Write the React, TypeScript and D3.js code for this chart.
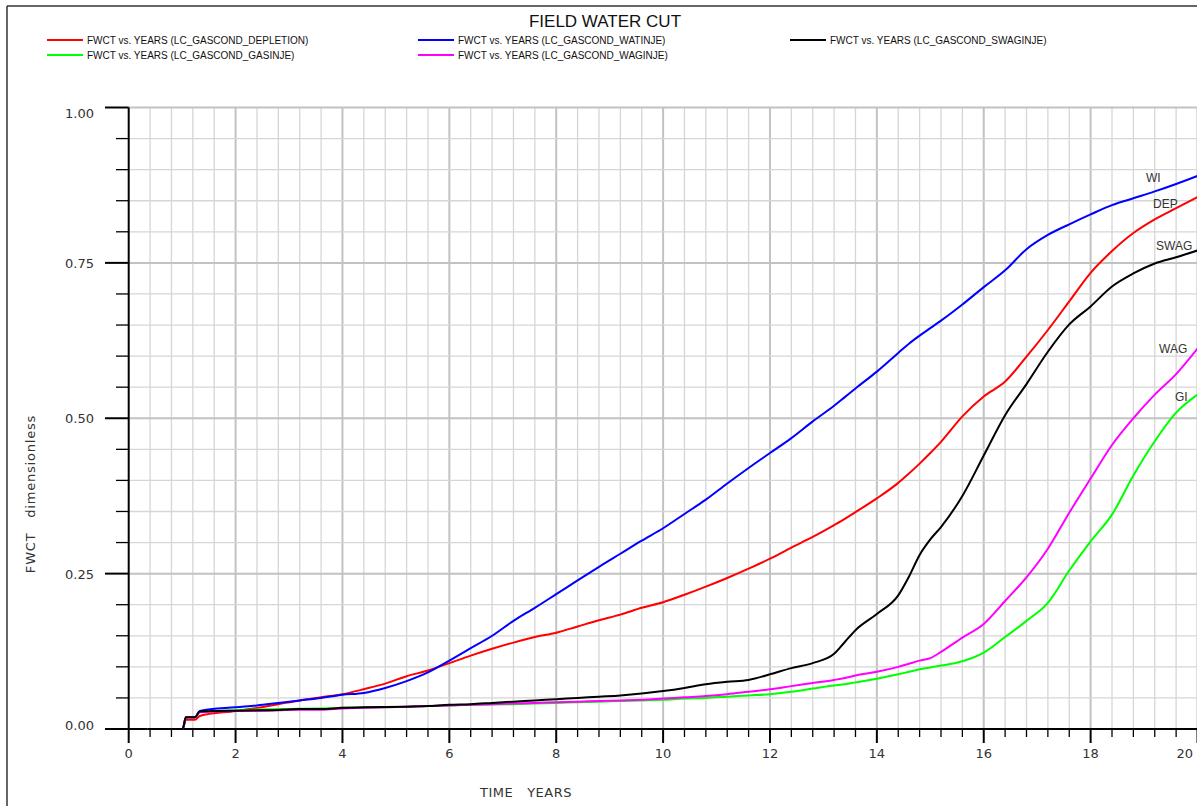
import React from "react";
import * as d3 from "d3";

// Sample times (years) shared by every FWCT series
const YEARS = [
  0.35, 1.01, 1.07, 1.24, 1.33, 2.0, 2.4, 2.8, 3.2, 3.6, 4.0, 4.4, 4.8, 5.2, 5.6, 6.0, 6.4, 6.8,
  7.2, 7.6, 8.0, 8.4, 8.8, 9.2, 9.6, 10.0, 10.4, 10.8, 11.2, 11.6, 12.0, 12.4, 12.8, 13.2, 13.4,
  13.6, 14.0, 14.4, 14.6, 14.8, 15.0, 15.2, 15.6, 16.0, 16.4, 16.8, 17.2, 17.6, 18.0, 18.4, 18.8,
  19.2, 19.6, 20.0,
];

const DEPLETION = [
  0, 0, 0.015, 0.015, 0.021, 0.029, 0.034, 0.04, 0.046, 0.051, 0.056, 0.064, 0.073, 0.085, 0.094,
  0.106, 0.118, 0.129, 0.139, 0.148, 0.155, 0.165, 0.175, 0.184, 0.195, 0.204, 0.216, 0.229, 0.243,
  0.258, 0.274, 0.292, 0.309, 0.328, 0.338, 0.349, 0.371, 0.396, 0.411, 0.427, 0.444, 0.462, 0.503,
  0.535, 0.559, 0.599, 0.642, 0.688, 0.734, 0.769, 0.798, 0.82, 0.838, 0.856,
];

const GASINJE = [
  0, 0, 0.019, 0.019, 0.028, 0.03, 0.0315, 0.032, 0.0325, 0.033, 0.034, 0.0345, 0.035, 0.036,
  0.037, 0.038, 0.039, 0.0395, 0.04, 0.041, 0.042, 0.043, 0.044, 0.045, 0.046, 0.047, 0.049, 0.05,
  0.052, 0.054, 0.056, 0.06, 0.065, 0.07, 0.072, 0.075, 0.081, 0.088, 0.092, 0.096, 0.099, 0.102,
  0.109, 0.123, 0.148, 0.174, 0.203, 0.255, 0.302, 0.345, 0.408, 0.463, 0.509, 0.538,
];

const WATINJE = [
  0, 0, 0.019, 0.019, 0.029, 0.035, 0.038, 0.042, 0.046, 0.05, 0.055, 0.058, 0.066, 0.077, 0.091,
  0.11, 0.13, 0.15, 0.174, 0.195, 0.217, 0.239, 0.261, 0.282, 0.303, 0.323, 0.346, 0.369, 0.395,
  0.42, 0.444, 0.468, 0.495, 0.52, 0.534, 0.548, 0.575, 0.605, 0.62, 0.633, 0.645, 0.657, 0.683,
  0.711, 0.738, 0.772, 0.795, 0.812, 0.828, 0.843, 0.854, 0.865, 0.877, 0.89,
];

const WAGINJE = [
  0, 0, 0.019, 0.019, 0.027, 0.029, 0.029, 0.03, 0.031, 0.031, 0.033, 0.034, 0.035, 0.036, 0.037,
  0.038, 0.039, 0.04, 0.041, 0.042, 0.043, 0.044, 0.045, 0.046, 0.047, 0.049, 0.051, 0.053, 0.056,
  0.06, 0.064, 0.069, 0.074, 0.079, 0.082, 0.086, 0.092, 0.1, 0.105, 0.11, 0.114, 0.124, 0.147,
  0.169, 0.206, 0.244, 0.29, 0.348, 0.403, 0.457, 0.5, 0.538, 0.571, 0.612,
];

const SWAGINJE = [
  0, 0, 0.019, 0.019, 0.028, 0.0295, 0.03, 0.0305, 0.032, 0.032, 0.034, 0.035, 0.0355, 0.036,
  0.037, 0.039, 0.04, 0.042, 0.044, 0.046, 0.048, 0.05, 0.052, 0.054, 0.057, 0.061, 0.066, 0.072,
  0.076, 0.079, 0.088, 0.098, 0.106, 0.121, 0.14, 0.159, 0.185, 0.215, 0.245, 0.28, 0.305, 0.325,
  0.375, 0.44, 0.505, 0.555, 0.607, 0.651, 0.68, 0.712, 0.733, 0.749, 0.759, 0.77,
];

const SERIES_NAMES = [
  "FWCT vs. YEARS (LC_GASCOND_DEPLETION)",
  "FWCT vs. YEARS (LC_GASCOND_GASINJE)",
  "FWCT vs. YEARS (LC_GASCOND_WATINJE)",
  "FWCT vs. YEARS (LC_GASCOND_WAGINJE)",
  "FWCT vs. YEARS (LC_GASCOND_SWAGINJE)",
];
const SERIES_VALUES = [DEPLETION, GASINJE, WATINJE, WAGINJE, SWAGINJE];
const SERIES_COLORS = ["#ff0000", "#00ff00", "#0000ff", "#ff00ff", "#000000"];
const END_LABELS = ["DEP", "GI", "WI", "WAG", "SWAG"];

const X_TICKS = [0, 2, 4, 6, 8, 10, 12, 14, 16, 18, 20];
const Y_TICKS = [0, 0.25, 0.5, 0.75, 1.0];

const W = 1197;
const H = 806;

export default function App() {
  const x = d3.scaleLinear().domain([0, 20]).range([128.7, 1197.5]);
  const y = d3.scaleLinear().domain([0, 1]).range([729, 107.5]);

  const xMinor = d3.range(0, 20.0001, 0.4);
  const yMinor = d3.range(0, 1.0001, 0.05);
  const isMajorX = (v: number) => Math.abs(v / 2 - Math.round(v / 2)) < 1e-6;
  const isMajorY = (v: number) => Math.abs(v / 0.25 - Math.round(v / 0.25)) < 1e-6;

  const line = d3
    .line<number>()
    .x((_, i) => x(YEARS[i]))
    .y((d) => y(d))
    .curve(d3.curveMonotoneX);

  const tickFont = "'DejaVu Sans', sans-serif";
  const legendFont = "'Liberation Sans', Arial, sans-serif";

  // legend layout: column-major, 2 rows
  const legendCols = [47, 418, 790];
  const legendRows = [40, 55];

  // label positions at the right end of each curve
  const labelPos: Record<string, [number, number]> = {
    WI: [1146, 177],
    DEP: [1153, 203],
    SWAG: [1156, 245],
    WAG: [1159, 348],
    GI: [1175, 396],
  };

  return (
    <svg
      width={W}
      height={H}
      viewBox={`0 0 ${W} ${H}`}
      style={{ position: "absolute", left: 0, top: 0, display: "block", background: "#fff" }}
    >
      <rect x={0} y={0} width={W} height={H} fill="#ffffff" />
      {/* outer frame */}
      <line x1={7} y1={6} x2={W} y2={6} stroke="#333" strokeWidth={1.5} />
      <line x1={7} y1={6} x2={7} y2={H} stroke="#333" strokeWidth={1.5} />

      {/* title */}
      <text x={605} y={27} textAnchor="middle" fontFamily={legendFont} fontSize={17} fill="#111">
        FIELD WATER CUT
      </text>

      {/* legend */}
      {SERIES_NAMES.map((name, i) => {
        const col = Math.floor(i / 2);
        const row = i % 2;
        const lx = legendCols[col];
        const ly = legendRows[row];
        return (
          <g key={name}>
            <line x1={lx} x2={lx + 36} y1={ly} y2={ly} stroke={SERIES_COLORS[i]} strokeWidth={2} />
            <text x={lx + 40} y={ly + 3.5} fontFamily={legendFont} fontSize={10} fill="#111">
              {name}
            </text>
          </g>
        );
      })}

      {/* grid */}
      <g>
        {xMinor
          .filter((v) => v > 0)
          .map((v) => (
            <line
              key={"gx" + v}
              x1={x(v)}
              x2={x(v)}
              y1={y(1)}
              y2={y(0)}
              stroke={isMajorX(v) ? "#c2c2c2" : "#d6d6d6"}
              strokeWidth={isMajorX(v) ? 2 : 1.3}
            />
          ))}
        {yMinor
          .filter((v) => v > 0)
          .map((v) => (
            <line
              key={"gy" + v}
              x1={x(0)}
              x2={W}
              y1={y(v)}
              y2={y(v)}
              stroke={isMajorY(v) ? "#c2c2c2" : "#d6d6d6"}
              strokeWidth={isMajorY(v) ? 2 : 1.3}
            />
          ))}
      </g>

      {/* axes */}
      <g stroke="#000">
        <line x1={x(0)} x2={x(0)} y1={y(1)} y2={y(0) + 14} strokeWidth={2} />
        <line x1={105} x2={W} y1={y(0)} y2={y(0)} strokeWidth={2} />
        {yMinor.map((v) => (
          <line
            key={"ty" + v}
            x1={isMajorY(v) ? 105 : 116}
            x2={x(0)}
            y1={y(v)}
            y2={y(v)}
            strokeWidth={isMajorY(v) ? 2 : 1.3}
          />
        ))}
        {xMinor
          .filter((v) => v > 0)
          .map((v) => (
            <line
              key={"tx" + v}
              x1={x(v)}
              x2={x(v)}
              y1={y(0)}
              y2={y(0) + (isMajorX(v) ? 14 : 8)}
              strokeWidth={isMajorX(v) ? 2 : 1.3}
            />
          ))}
      </g>

      {/* tick labels */}
      {Y_TICKS.map((v) => {
        let yy = y(v) + 5;
        if (v === 1) yy = y(v) + 10;
        if (v === 0) yy = y(v) + 1;
        return (
          <text
            key={"ly" + v}
            x={94}
            y={yy}
            textAnchor="end"
            fontFamily={tickFont}
            fontSize={13}
            fill="#333"
          >
            {v.toFixed(2)}
          </text>
        );
      })}
      {X_TICKS.map((v) => {
        const px = x(v);
        const atEdge = px + 9 > W;
        return (
          <text
            key={"lx" + v}
            x={atEdge ? W - 4 : px}
            y={758}
            textAnchor={atEdge ? "end" : "middle"}
            fontFamily={tickFont}
            fontSize={13}
            fill="#333"
          >
            {v}
          </text>
        );
      })}

      {/* axis titles */}
      <text
        transform="translate(35,494) rotate(-90)"
        textAnchor="middle"
        fontFamily={tickFont}
        fontSize={13}
        letterSpacing={0.8}
        fill="#333"
        style={{ whiteSpace: "pre" }}
      >
        {"FWCT   dimensionless"}
      </text>
      <text
        x={526}
        y={797}
        textAnchor="middle"
        fontFamily={tickFont}
        fontSize={13}
        letterSpacing={0.5}
        fill="#333"
        style={{ whiteSpace: "pre" }}
      >
        {"TIME   YEARS"}
      </text>

      {/* curves */}
      <g fill="none" strokeWidth={2} strokeLinejoin="round">
        {SERIES_VALUES.map((vals, i) => (
          <path key={SERIES_NAMES[i]} d={line(vals) || ""} stroke={SERIES_COLORS[i]} />
        ))}
      </g>

      {/* curve end labels */}
      {END_LABELS.map((lab) => (
        <text
          key={lab}
          x={labelPos[lab][0]}
          y={labelPos[lab][1] + 4.5}
          fontFamily={legendFont}
          fontSize={12}
          fill="#333"
        >
          {lab}
        </text>
      ))}
    </svg>
  );
}
